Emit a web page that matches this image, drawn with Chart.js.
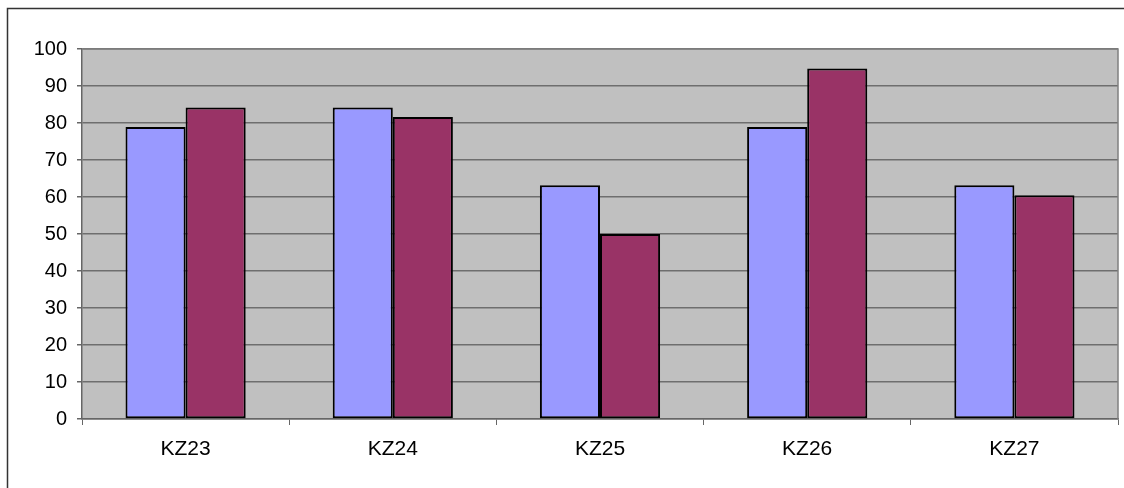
<!DOCTYPE html>
<html>
<head>
<meta charset="utf-8">
<script src="https://cdn.jsdelivr.net/npm/chart.js@4.4.1/dist/chart.umd.min.js"></script>
<style>
  html, body { margin: 0; padding: 0; background: #fff; }
  #wrap { position: relative; width: 1124px; height: 488px; }
</style>
</head>
<body>
<div id="wrap"><canvas id="chart" width="1124" height="488"></canvas></div>
<script>
const categories = ['KZ23', 'KZ24', 'KZ25', 'KZ26', 'KZ27'];
const seriesA = [78.9, 84.2, 63.2, 78.9, 63.2];
const seriesB = [84.2, 81.6, 50.0, 94.7, 60.5];
const yTicks = [0, 10, 20, 30, 40, 50, 60, 70, 80, 90, 100];

// plot background, plot border and the outer chart frame
const framePlugin = {
    id: 'frame',
    beforeDraw(chart) {
        const { ctx, chartArea: a } = chart;
        ctx.save();
        ctx.fillStyle = '#C0C0C0';
        ctx.fillRect(a.left, a.top, a.right - a.left, a.bottom - a.top);
        ctx.strokeStyle = '#333333';
        ctx.lineWidth = 1.5;
        ctx.strokeRect(7.5, 8.5, chart.width + 20, chart.height + 20);
        ctx.restore();
    },
    afterDatasetsDraw(chart) {
        const { ctx, chartArea: a } = chart;
        ctx.save();
        ctx.strokeStyle = '#808080';
        ctx.lineWidth = 1.5;
        ctx.beginPath();
        ctx.moveTo(a.left, a.top);
        ctx.lineTo(a.right, a.top);
        ctx.lineTo(a.right, a.bottom);
        ctx.stroke();
        ctx.restore();
    }
};

const ctx = document.getElementById('chart').getContext('2d');

new Chart(ctx, {
    type: 'bar',
    data: {
        labels: categories,
        datasets: [
            {
                data: seriesA,
                backgroundColor: '#9999FF',
                borderColor: '#000000',
                borderWidth: 2,
                borderSkipped: false
            },
            {
                data: seriesB,
                backgroundColor: '#993366',
                borderColor: '#000000',
                borderWidth: 2,
                borderSkipped: false
            }
        ]
    },
    options: {
        responsive: false,
        animation: false,
        devicePixelRatio: 1,
        layout: { padding: { left: 0, right: 6, top: 49, bottom: 29 } },
        plugins: {
            legend: { display: false },
            tooltip: { enabled: false }
        },
        datasets: {
            bar: { categoryPercentage: 0.58, barPercentage: 1 }
        },
        scales: {
            x: {
                offset: true,
                grid: {
                    offset: true,
                    drawOnChartArea: false,
                    drawTicks: true,
                    tickLength: 6,
                    tickColor: '#666666'
                },
                border: { color: '#666666', width: 1.5 },
                ticks: {
                    color: '#000000',
                    padding: 12,
                    font: { family: '"Liberation Sans", Arial, sans-serif', size: 21 }
                },
                afterFit(scale) { scale.height = 40; }
            },
            y: {
                min: 0,
                max: 100,
                afterBuildTicks(scale) {
                    scale.ticks = yTicks.map(v => ({ value: v }));
                },
                grid: {
                    color: '#6e6e6e',
                    lineWidth: 1.5,
                    tickLength: 5,
                    tickColor: '#666666'
                },
                border: { color: '#666666', width: 1.5 },
                ticks: {
                    color: '#000000',
                    padding: 10,
                    font: { family: '"Liberation Sans", Arial, sans-serif', size: 20 }
                },
                afterFit(scale) { scale.width = 82; }
            }
        }
    },
    plugins: [framePlugin]
});
</script>
</body>
</html>
